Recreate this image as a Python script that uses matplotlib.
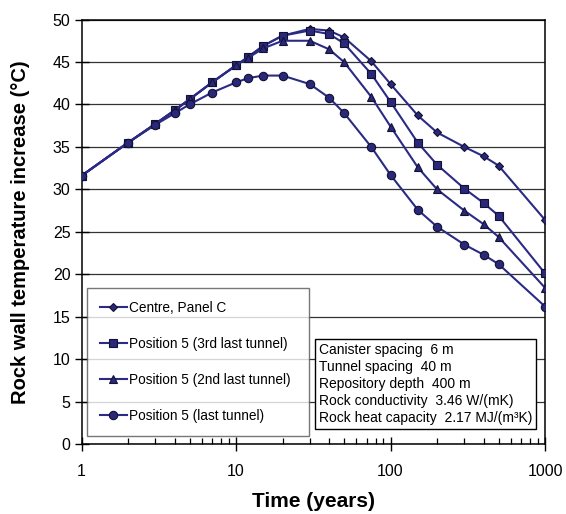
import matplotlib
matplotlib.use("Agg")
import matplotlib.pyplot as plt
from matplotlib.ticker import LogLocator, FixedLocator, NullFormatter

plt.rcParams['font.family'] = ['Liberation Sans', 'DejaVu Sans']

years = [1, 2, 3, 4, 5, 7, 10, 12, 15, 20, 30, 40, 50, 75, 100, 150, 200, 300, 400, 500, 1000]

centre_panel_c = [31.6, 35.5, 37.7, 39.3, 40.6, 42.6, 44.6, 45.6, 46.9, 48.1, 48.9, 48.7, 47.9,
                  45.1, 42.4, 38.7, 36.7, 35.0, 33.9, 32.8, 26.4]
pos5_3rd_last = [31.6, 35.5, 37.7, 39.3, 40.6, 42.6, 44.6, 45.6, 46.9, 48.1, 48.7, 48.3, 47.2,
                 43.6, 40.3, 35.5, 32.9, 30.1, 28.4, 26.9, 20.1]
pos5_2nd_last = [31.6, 35.5, 37.7, 39.3, 40.6, 42.6, 44.6, 45.5, 46.6, 47.5, 47.5, 46.5, 45.0,
                 40.9, 37.4, 32.6, 30.0, 27.5, 25.9, 24.4, 18.4]
pos5_last = [31.6, 35.5, 37.6, 38.95, 40.0, 41.4, 42.6, 43.1, 43.4, 43.4, 42.4, 40.8, 39.0,
             35.0, 31.7, 27.6, 25.6, 23.5, 22.3, 21.2, 16.2]

series_labels = ["Centre, Panel C", "Position 5 (3rd last tunnel)",
                 "Position 5 (2nd last tunnel)", "Position 5 (last tunnel)"]
series_markers = ["D", "s", "^", "o"]
series_sizes = [4.5, 6, 6, 6]

info_lines = ["Canister spacing  6 m", "Tunnel spacing  40 m", "Repository depth  400 m",
              "Rock conductivity  3.46 W/(mK)", "Rock heat capacity  2.17 MJ/(m\u00b3K)"]

line_color = "#2b2a85"
marker_face = "#2a2878"

fig = plt.figure(figsize=(5.66, 5.14), dpi=100)
ax = fig.add_axes([0.144, 0.136, 0.819, 0.826])

for vals, lab, mk, ms in zip([centre_panel_c, pos5_3rd_last, pos5_2nd_last, pos5_last],
                             series_labels, series_markers, series_sizes):
    ax.plot(years, vals, color=line_color, lw=1.5, marker=mk, markersize=ms,
            markerfacecolor=marker_face, markeredgecolor="#111133", markeredgewidth=0.8,
            label=lab, zorder=3)

ax.set_xscale("log")
ax.set_xlim(1, 1000)
ax.set_ylim(0, 50)
ax.set_yticks(range(0, 51, 5))
ax.yaxis.grid(True, color="#333333", lw=0.9)
ax.set_axisbelow(True)

ax.xaxis.set_major_locator(FixedLocator([1, 10, 100, 1000]))
ax.set_xticklabels(["1", "10", "100", "1000"])
ax.xaxis.set_minor_locator(LogLocator(base=10, subs=range(2, 10)))
ax.xaxis.set_minor_formatter(NullFormatter())
ax.tick_params(axis="x", which="major", direction="inout", length=10, width=1, labelsize=11.5, pad=9)
ax.tick_params(axis="x", which="minor", direction="in", length=4, width=0.9)
ax.tick_params(axis="y", which="major", direction="inout", length=10, width=1, labelsize=11.5, pad=3)

for sp in ax.spines.values():
    sp.set_color("black")
    sp.set_linewidth(1.1)

ax.set_xlabel("Time (years)", fontsize=15, fontweight="bold", labelpad=10)
ax.set_ylabel("Rock wall temperature increase (\u00b0C)", fontsize=14.5, fontweight="bold", labelpad=16)

leg = ax.legend(loc="upper left", bbox_to_anchor=(0.011, 0.0, 0.48, 0.368), mode="expand",
                fontsize=9.8, frameon=True, fancybox=False, handlelength=2.0,
                handletextpad=0.15, labelspacing=1.62, borderpad=0.95, borderaxespad=0)
leg.get_frame().set_edgecolor("#555555")
leg.get_frame().set_linewidth(1.0)

ax.text(0.512, 0.045, "\n".join(info_lines), transform=ax.transAxes, fontsize=10,
        ha="left", va="bottom", linespacing=1.27,
        bbox=dict(boxstyle="square,pad=0.3", facecolor="white", edgecolor="black", lw=1.0),
        zorder=5)

fig.savefig("out.png", dpi=100)
